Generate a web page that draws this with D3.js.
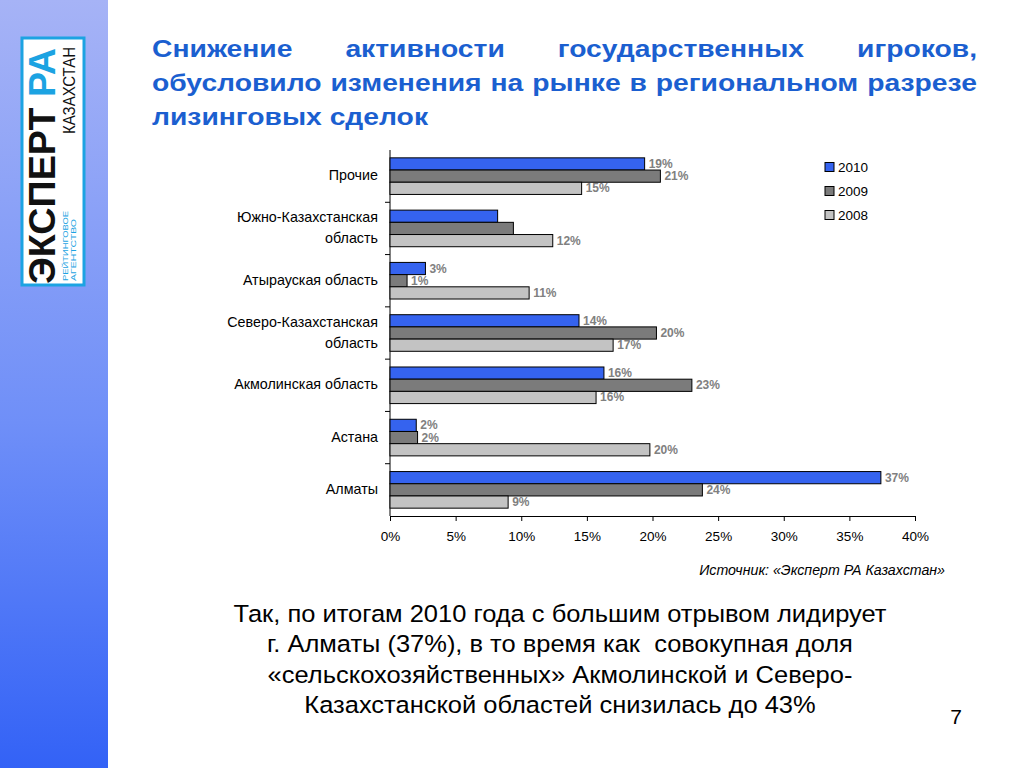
<!DOCTYPE html>
<html>
<head>
<meta charset="utf-8">
<script src="https://cdn.jsdelivr.net/npm/d3@7"></script>
<style>
  body { margin: 0; background: #fff; }
  svg { display: block; font-family: Arial, "Liberation Sans", sans-serif; }
</style>
</head>
<body>
<script>
// chart data
var categories = ["Прочие", "Южно-Казахстанская область", "Атырауская область",
    "Северо-Казахстанская область", "Акмолинская область", "Астана", "Алматы"];
var categoryLines = [["Прочие"], ["Южно-Казахстанская", "область"], ["Атырауская область"],
    ["Северо-Казахстанская", "область"], ["Акмолинская область"], ["Астана"], ["Алматы"]];
var seriesNames = ["2010", "2009", "2008"];
var values2010 = [19.4, 8.2, 2.7, 14.4, 16.3, 2.0, 37.4];
var values2009 = [20.6, 9.4, 1.3, 20.3, 23.0, 2.1, 23.8];
var values2008 = [14.6, 12.4, 10.6, 17.0, 15.7, 19.8, 9.0];
var labels2010 = ["19%", "", "3%", "14%", "16%", "2%", "37%"];
var labels2009 = ["21%", "", "1%", "20%", "23%", "2%", "24%"];
var labels2008 = ["15%", "12%", "11%", "17%", "16%", "20%", "9%"];
var xTicks = [0, 5, 10, 15, 20, 25, 30, 35, 40];

var colors = { "2010": "#3563ef", "2009": "#7b7b7b", "2008": "#c3c3c3" };

var titleLine1 = ["Снижение", "активности", "государственных", "игроков,"];
var titleLine2 = ["обусловило", "изменения", "на", "рынке", "в", "региональном", "разрезе"];
var titleLine3 = "лизинговых сделок";
var noteLines = ["Так, по итогам 2010 года с большим отрывом лидирует",
    "г. Алматы (37%), в то время как  совокупная доля",
    "«сельскохозяйственных» Акмолинской и Северо-",
    "Казахстанской областей снизилась до 43%"];

var data = categories.map(function (c, i) {
    return {
        name: c, lines: categoryLines[i],
        bars: [
            { s: "2010", v: values2010[i], label: labels2010[i] },
            { s: "2009", v: values2009[i], label: labels2009[i] },
            { s: "2008", v: values2008[i], label: labels2008[i] }
        ]
    };
});

var svg = d3.select("body").append("svg")
    .attr("width", 1024)
    .attr("height", 768);

// left stripe
var defs = svg.append("defs");
var grad = defs.append("linearGradient").attr("id", "stripe")
    .attr("x1", 0).attr("y1", 0).attr("x2", 0).attr("y2", 1);
grad.append("stop").attr("offset", "0%").attr("stop-color", "#a6b3f6");
grad.append("stop").attr("offset", "55%").attr("stop-color", "#6f8ff8");
grad.append("stop").attr("offset", "100%").attr("stop-color", "#3362f6");
svg.append("rect").attr("x", 0).attr("y", 0).attr("width", 108).attr("height", 768)
    .attr("fill", "url(#stripe)");

// logo
var logo = svg.append("g");
logo.append("rect").attr("x", 22).attr("y", 38).attr("width", 62).attr("height", 247)
    .attr("fill", "#fff").attr("stroke", "#1ca3e2").attr("stroke-width", 3);
var big = logo.append("text")
    .attr("transform", "translate(55,284) rotate(-90)")
    .attr("font-size", 36).attr("font-weight", "bold")
    .attr("textLength", 236).attr("lengthAdjust", "spacingAndGlyphs");
big.append("tspan").attr("fill", "#111").text("ЭКСПЕРТ ");
big.append("tspan").attr("fill", "#1ca3e2").text("РА");
logo.append("text")
    .attr("transform", "translate(75,134) rotate(-90)")
    .attr("font-size", 17).attr("fill", "#111")
    .attr("textLength", 87).attr("lengthAdjust", "spacingAndGlyphs")
    .text("КАЗАХСТАН");
logo.append("text")
    .attr("transform", "translate(68,281) rotate(-90)")
    .attr("font-size", 8).attr("fill", "#1ca3e2")
    .attr("textLength", 70).attr("lengthAdjust", "spacingAndGlyphs")
    .text("РЕЙТИНГОВОЕ");
logo.append("text")
    .attr("transform", "translate(76,281) rotate(-90)")
    .attr("font-size", 8).attr("fill", "#1ca3e2")
    .attr("textLength", 62).attr("lengthAdjust", "spacingAndGlyphs")
    .text("АГЕНТСТВО");

// title, justified lines (the slide font is wider, so stretch it a bit)
var titleScale = 1.23;
var title = svg.append("g")
    .attr("transform", "translate(152,0) scale(" + titleScale + ",1)")
    .attr("font-size", 23).attr("font-weight", "bold").attr("fill", "#1b5fd0");

function justify(words, width, y) {
    var t = title.append("text").attr("y", y);
    var spans = words.map(function (w) { return t.append("tspan").text(w); });
    var widths = spans.map(function (s) { return s.node().getComputedTextLength(); });
    var gap = (width - d3.sum(widths)) / (words.length - 1);
    var cx = 0;
    spans.forEach(function (s, i) { s.attr("x", cx); cx += widths[i] + gap; });
}
justify(titleLine1, 825 / titleScale, 57);
justify(titleLine2, 825 / titleScale, 91);
title.append("text").attr("x", 0).attr("y", 125).text(titleLine3);

// scales
var x = d3.scaleLinear().domain([0, 40]).range([390, 915]);
var y = d3.scaleBand().domain(categories).range([150, 516])
    .paddingInner(0.3).paddingOuter(0.15);
var y1 = d3.scaleBand().domain(seriesNames).range([0, y.bandwidth()]);

var chart = svg.append("g");

// x axis
var xAxis = d3.axisBottom(x).tickValues(xTicks)
    .tickFormat(function (d) { return d + "%"; })
    .tickSize(5).tickSizeOuter(5).tickPadding(10);
var gx = chart.append("g").attr("transform", "translate(0,516)").call(xAxis);
gx.select(".domain").attr("stroke", "#000");
gx.selectAll(".tick line").attr("stroke", "#000");
gx.selectAll(".tick text").attr("font-size", 13.5).attr("fill", "#000")
    .attr("font-family", "Arial, 'Liberation Sans', sans-serif");

// y axis line and boundary ticks
chart.append("line").attr("x1", 390).attr("x2", 390).attr("y1", 150).attr("y2", 516)
    .attr("stroke", "#000");
chart.selectAll("line.ytick")
    .data(categories.slice(1))
    .enter().append("line")
    .attr("class", "ytick")
    .attr("x1", 385).attr("x2", 390)
    .attr("y1", function (d) { return y(d) - y.step() * y.paddingInner() / 2; })
    .attr("y2", function (d) { return y(d) - y.step() * y.paddingInner() / 2; })
    .attr("stroke", "#000");

// category labels
var catText = chart.selectAll("text.cat")
    .data(data)
    .enter().append("text")
    .attr("class", "cat")
    .attr("font-size", 14.3).attr("fill", "#000")
    .attr("text-anchor", "end");
catText.selectAll("tspan")
    .data(function (d) {
        var n = d.lines.length;
        return d.lines.map(function (l, i) {
            return { t: l, yy: y(d.name) + y.bandwidth() / 2 + 4 + (i - (n - 1) / 2) * 21 };
        });
    })
    .enter().append("tspan")
    .attr("x", 378)
    .attr("y", function (d) { return d.yy; })
    .text(function (d) { return d.t; });

// bars
var groups = chart.selectAll("g.grp")
    .data(data)
    .enter().append("g")
    .attr("class", "grp")
    .attr("transform", function (d) { return "translate(0," + y(d.name) + ")"; });

groups.selectAll("rect")
    .data(function (d) { return d.bars; })
    .enter().append("rect")
    .attr("x", x(0))
    .attr("y", function (d) { return y1(d.s); })
    .attr("width", function (d) { return x(d.v) - x(0); })
    .attr("height", y1.bandwidth())
    .attr("fill", function (d) { return colors[d.s]; })
    .attr("stroke", "#000")
    .attr("stroke-width", 1);

groups.selectAll("text")
    .data(function (d) { return d.bars.filter(function (b) { return b.label; }); })
    .enter().append("text")
    .attr("x", function (d) { return x(d.v) + 4; })
    .attr("y", function (d) { return y1(d.s) + y1.bandwidth() / 2 + 4; })
    .attr("font-size", 12).attr("font-weight", "bold").attr("fill", "#808080")
    .text(function (d) { return d.label; });

// legend
var legend = chart.selectAll("g.leg")
    .data(seriesNames)
    .enter().append("g")
    .attr("class", "leg")
    .attr("transform", function (d, i) { return "translate(825," + (167 + i * 24) + ")"; });
legend.append("rect")
    .attr("x", 0).attr("y", -4.5).attr("width", 9).attr("height", 9)
    .attr("fill", function (d) { return colors[d]; })
    .attr("stroke", "#000");
legend.append("text")
    .attr("x", 13).attr("y", 5)
    .attr("font-size", 13.5).attr("fill", "#000")
    .text(function (d) { return d; });

// source
svg.append("text")
    .attr("x", 945).attr("y", 575)
    .attr("text-anchor", "end")
    .attr("font-family", "'Liberation Sans Narrow', 'Arial Narrow', Arial, sans-serif")
    .attr("font-style", "italic").attr("font-size", 14.2).attr("fill", "#000")
    .text("Источник: «Эксперт РА Казахстан»");

// note text
svg.append("g")
    .attr("transform", "translate(560,0) scale(1.04,1)")
    .selectAll("text")
    .data(noteLines)
    .enter().append("text")
    .attr("x", 0)
    .attr("y", function (d, i) { return 622 + i * 30.5; })
    .attr("text-anchor", "middle")
    .style("white-space", "pre")
    .attr("font-size", 24.5).attr("fill", "#000")
    .text(function (d) { return d; });

// page number
svg.append("text").attr("x", 956).attr("y", 724).attr("text-anchor", "middle")
    .attr("font-size", 21).attr("fill", "#000").text("7");
</script>
</body>
</html>
